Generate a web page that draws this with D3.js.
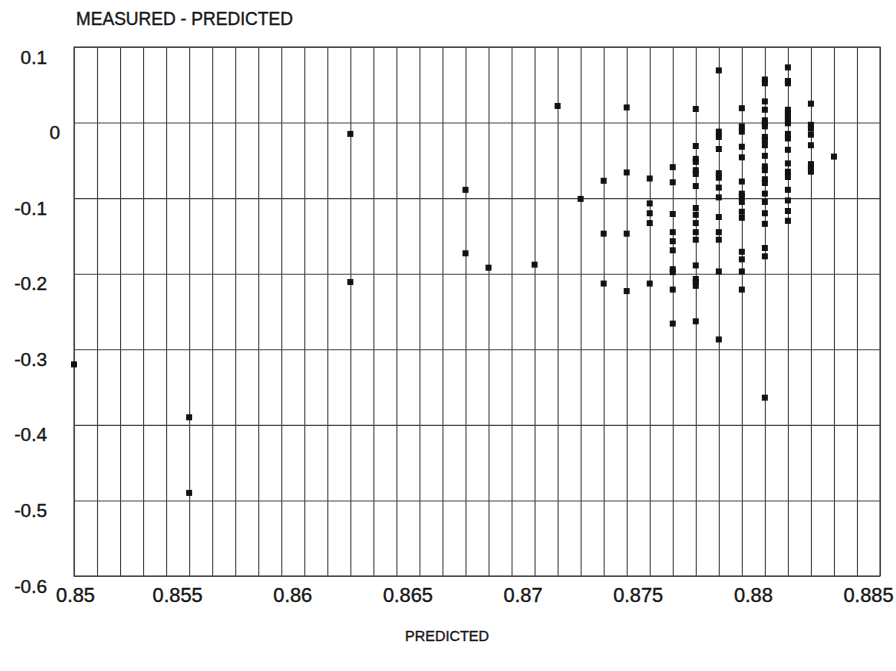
<!DOCTYPE html>
<html>
<head>
<meta charset="utf-8">
<script src="https://cdn.jsdelivr.net/npm/d3@7"></script>
<style>
  html, body { margin: 0; padding: 0; background: #fff; }
  svg { display: block; }
  text { font-family: "Liberation Sans", Arial, Helvetica, sans-serif; fill: #151515; stroke: #151515; stroke-width: 0.35px; }
</style>
</head>
<body>
<svg id="chart" width="896" height="671"></svg>
<script>
// ---- data ----
const xTickLabels = [0.85, 0.855, 0.86, 0.865, 0.87, 0.875, 0.88, 0.885];
const yTickLabels = [0.1, 0, -0.1, -0.2, -0.3, -0.4, -0.5, -0.6];
const predictedCols = [0.850, 0.855, 0.862, 0.867, 0.868, 0.870, 0.871, 0.872, 0.873, 0.874,
                       0.875, 0.876, 0.877, 0.878, 0.879, 0.880, 0.881, 0.882, 0.883];
const residualsByCol = [
  [-0.32],
  [-0.39, -0.49],
  [-0.015, -0.211],
  [-0.089, -0.173],
  [-0.192],
  [-0.188],
  [0.022],
  [-0.101],
  [-0.077, -0.147, -0.213],
  [0.02, -0.066, -0.147, -0.223],
  [-0.074, -0.107, -0.120, -0.133, -0.213],
  [-0.059, -0.079, -0.121, -0.145, -0.157, -0.169, -0.194, -0.198, -0.221, -0.266],
  [0.018, -0.031, -0.048, -0.052, -0.063, -0.068, -0.084, -0.113, -0.122, -0.133, -0.145, -0.155, -0.189, -0.207, -0.211, -0.216, -0.263],
  [0.069, -0.012, -0.019, -0.035, -0.067, -0.073, -0.086, -0.099, -0.125, -0.145, -0.155, -0.197, -0.287],
  [0.019, -0.005, -0.012, -0.032, -0.046, -0.078, -0.094, -0.098, -0.105, -0.118, -0.126, -0.171, -0.181, -0.197, -0.221],
  [0.057, 0.052, 0.028, 0.017, 0.003, -0.001, -0.005, -0.019, -0.023, -0.030, -0.044, -0.058, -0.063, -0.075, -0.080, -0.094, -0.105, -0.120, -0.134, -0.166, -0.177, -0.364],
  [0.073, 0.055, 0.052, 0.017, 0.012, 0.008, 0.003, -0.001, -0.015, -0.021, -0.036, -0.054, -0.065, -0.072, -0.089, -0.103, -0.117, -0.130],
  [0.025, -0.003, -0.008, -0.016, -0.030, -0.055, -0.060, -0.065],
  [-0.045]
];
const xTitle = "PREDICTED";
const yTitle = "MEASURED - PREDICTED";

// ---- layout ----
const svg = d3.select("#chart");
const mLeft = 74, mRight = 880, mTop = 47, mBottom = 576;
const x = d3.scaleLinear().domain([0.85, 0.885]).range([mLeft, mRight]);
const y = d3.scaleLinear().domain([-0.6, 0.1]).range([mBottom, mTop]);

const points = [];
predictedCols.forEach((px, i) => residualsByCol[i].forEach(r => points.push({x: px, y: r})));

const gridColor = "#4a4a4a";
const plainFormat = d => String(d);   // ASCII hyphen-minus, as in the original

// vertical grid every 0.001
const xGridVals = d3.range(0, 36).map(i => +(0.85 + i * 0.001).toFixed(3));
svg.append("g")
  .attr("transform", `translate(0,${mBottom})`)
  .call(d3.axisBottom(x).tickValues(xGridVals).tickSize(-(mBottom - mTop)).tickFormat(""))
  .call(g => g.select(".domain").remove())
  .call(g => g.selectAll("line").attr("stroke", gridColor).attr("stroke-width", 1.1));

// horizontal grid every 0.1
svg.append("g")
  .attr("transform", `translate(${mLeft},0)`)
  .call(d3.axisLeft(y).tickValues(yTickLabels).tickSize(-(mRight - mLeft)).tickFormat(""))
  .call(g => g.select(".domain").remove())
  .call(g => g.selectAll("line").attr("stroke", gridColor).attr("stroke-width", 1.1));

// frame
svg.append("rect")
  .attr("x", mLeft).attr("y", mTop)
  .attr("width", mRight - mLeft).attr("height", mBottom - mTop)
  .attr("fill", "none").attr("stroke", gridColor).attr("stroke-width", 1.2);

// x tick labels
const xAx = svg.append("g")
  .attr("transform", `translate(0,${mBottom})`)
  .call(d3.axisBottom(x).tickValues(xTickLabels).tickSize(0).tickPadding(0).tickFormat(plainFormat));
xAx.select(".domain").remove();
xAx.selectAll("text")
  .attr("font-size", 20)
  .attr("y", 26).attr("dy", 0)
  .attr("dx", (d, i) => i === 0 ? 1 : -12)
  .style("font-family", "'Liberation Sans', Arial, sans-serif")
  .attr("fill", "#151515");

// y tick labels
const yAx = svg.append("g")
  .attr("transform", `translate(${mLeft},0)`)
  .call(d3.axisLeft(y).tickValues(yTickLabels).tickSize(0).tickPadding(0).tickFormat(plainFormat));
yAx.select(".domain").remove();
yAx.selectAll("text")
  .attr("font-size", 19)
  .attr("x", d => d === 0 ? -14 : -27)
  .attr("dy", 16)
  .style("font-family", "'Liberation Sans', Arial, sans-serif")
  .attr("fill", "#151515");

// points
const s = 6;
svg.append("g").selectAll("rect")
  .data(points).join("rect")
  .attr("x", d => x(d.x) - s / 2)
  .attr("y", d => y(d.y) - s / 2)
  .attr("width", s).attr("height", s)
  .attr("fill", "#111");

// titles
svg.append("text").attr("x", 76).attr("y", 25)
  .attr("font-size", 17.6).text(yTitle);
svg.append("text").attr("x", 447).attr("y", 641)
  .attr("text-anchor", "middle").attr("font-size", 14.5).text(xTitle);
</script>
</body>
</html>
